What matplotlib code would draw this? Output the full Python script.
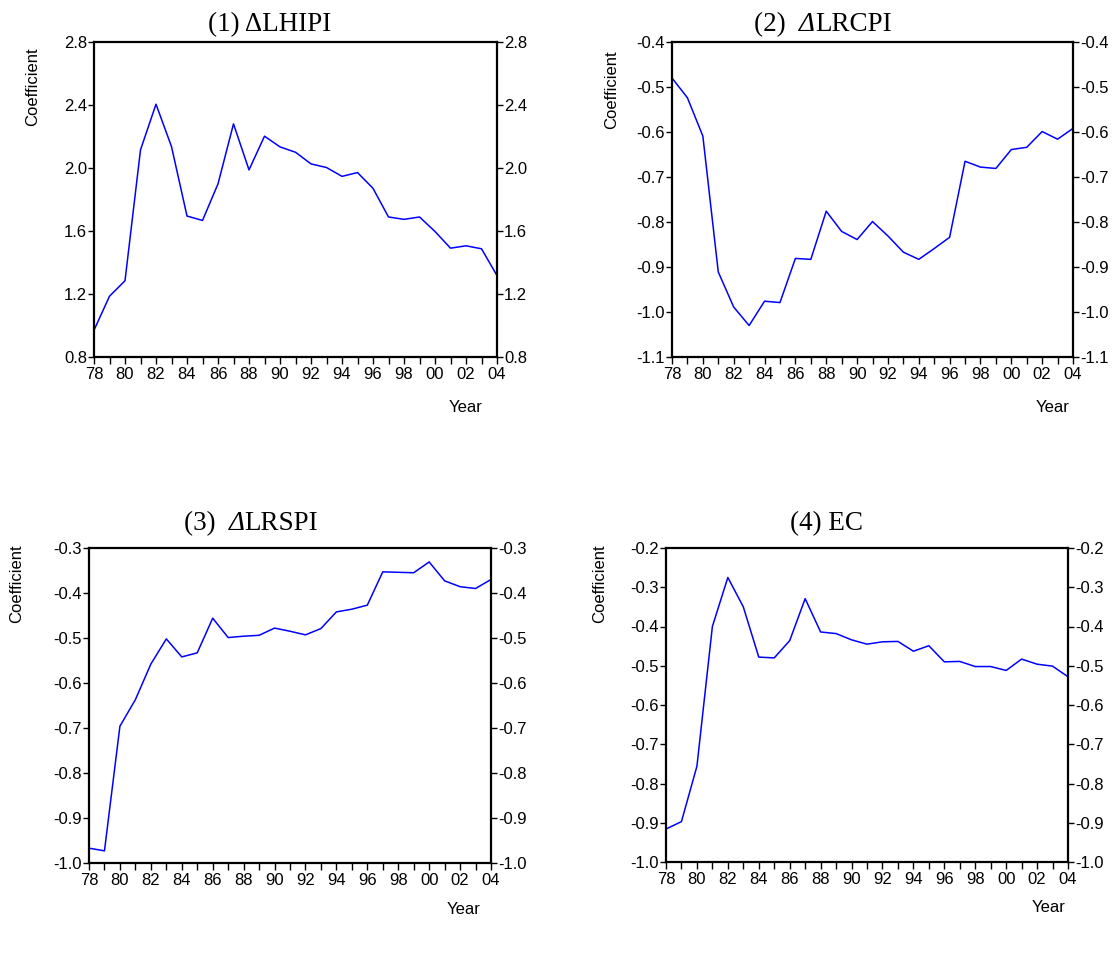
import matplotlib
matplotlib.use("Agg")
import matplotlib.pyplot as plt
import numpy as np

plt.rcParams['font.family'] = ['Liberation Sans', 'DejaVu Sans']

years = list(range(1978, 2005))
year_labels = [f"{y % 100:02d}" if y % 2 == 0 else "" for y in years]

lhipi = [0.97, 1.186, 1.284, 2.115, 2.405, 2.136, 1.695, 1.667, 1.899, 2.28,
         1.988, 2.202, 2.134, 2.10, 2.026, 2.003, 1.947, 1.971, 1.871, 1.689,
         1.674, 1.689, 1.597, 1.491, 1.506, 1.487, 1.317]
lrcpi = [-0.48, -0.524, -0.609, -0.911, -0.989, -1.03, -0.976, -0.979, -0.881,
         -0.883, -0.776, -0.821, -0.839, -0.799, -0.831, -0.867, -0.883, -0.859,
         -0.834, -0.665, -0.678, -0.681, -0.639, -0.634, -0.599, -0.616, -0.592]
lrspi = [-0.967, -0.973, -0.696, -0.637, -0.558, -0.502, -0.542, -0.533, -0.456,
         -0.499, -0.496, -0.494, -0.478, -0.485, -0.493, -0.479, -0.442, -0.436,
         -0.427, -0.353, -0.354, -0.355, -0.331, -0.373, -0.386, -0.390, -0.370]
ec = [-0.916, -0.897, -0.756, -0.40, -0.275, -0.35, -0.478, -0.48, -0.436,
      -0.329, -0.414, -0.418, -0.434, -0.445, -0.439, -0.438, -0.463, -0.449,
      -0.49, -0.489, -0.502, -0.502, -0.512, -0.483, -0.496, -0.501, -0.528]

# title pieces: (text, italic)
titles = [[("(1) \u0394LHIPI", False)],
          [("(2)  ", False), ("\u0394", True), ("LRCPI", False)],
          [("(3)  ", False), ("\u0394", True), ("LRSPI", False)],
          [("(4) EC", False)]]
series = [lhipi, lrcpi, lrspi, ec]
yticks = [np.arange(0.8, 2.81, 0.4), np.arange(-1.1, -0.39, 0.1),
          np.arange(-1.0, -0.29, 0.1), np.arange(-1.0, -0.19, 0.1)]
ylims = [(0.8, 2.8), (-1.1, -0.4), (-1.0, -0.3), (-1.0, -0.2)]

W, H = 1117, 969
fig = plt.figure(figsize=(W / 100, H / 100), dpi=100)
renderer = fig.canvas.get_renderer()

# pixel boxes: left, right, top, bottom
boxes = [(94, 497, 42, 357), (672, 1073, 42, 357), (89, 491, 548, 863), (666, 1068, 548, 862)]
title_pos = [(270, 31), (823, 31), (251, 530), (826, 530)]
ylab_pos = [(33, 87), (612, 90), (17, 584), (600, 584)]
year_pos = [(483, 408), (1070, 408), (481, 909), (1066, 907)]

def fx(px):
    return px / W

def fy(py):
    return 1 - py / H

def draw_title(pieces, cx, base):
    objs = []
    widths = []
    for txt, it in pieces:
        t = fig.text(0, fy(base), txt, ha='left', va='baseline', fontsize=19.5,
                     family='Liberation Serif', style='italic' if it else 'normal')
        w = t.get_window_extent(renderer=renderer).width
        objs.append(t)
        widths.append(w)
    total = sum(widths)
    x = cx - total / 2
    for t, w in zip(objs, widths):
        t.set_x(fx(x))
        x += w

for i in range(4):
    l, r, t, b = boxes[i]
    ax = fig.add_axes([fx(l), fy(b), (r - l) / W, (b - t) / H])
    ax.plot(years, series[i], color='#0000FF', lw=1.1)
    ax.set_xlim(years[0], years[-1])
    ax.set_ylim(*ylims[i])
    ax.set_xticks(years)
    ax.set_xticklabels(year_labels)
    ax.set_yticks(yticks[i])
    ax.set_yticklabels(["{:.1f}".format(v) for v in yticks[i]])
    for s in ax.spines.values():
        s.set_linewidth(1.6)
    ax.tick_params(axis='y', which='both', direction='out', length=4, width=1,
                   left=True, right=True, labelleft=True, labelright=True,
                   labelsize=12, pad=1)
    ax.tick_params(axis='x', direction='out', length=5, width=1, top=False,
                   labelsize=12, pad=2)
    draw_title(titles[i], title_pos[i][0], title_pos[i][1])
    fig.text(fx(ylab_pos[i][0]), fy(ylab_pos[i][1]), "Coefficient", rotation=90,
             ha='center', va='center', fontsize=12)
    fig.text(fx(year_pos[i][0]), fy(year_pos[i][1]), "Year", ha='right',
             va='center', fontsize=12)

fig.savefig("out.png", dpi=100)
